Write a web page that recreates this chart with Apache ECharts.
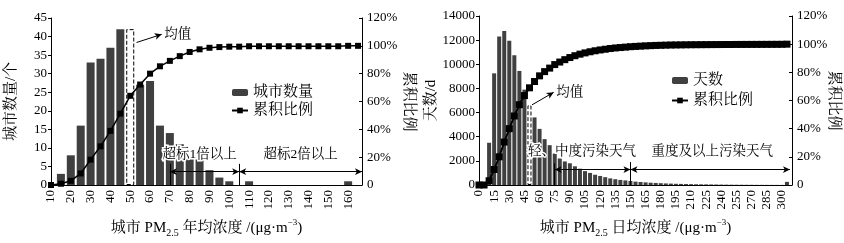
<!DOCTYPE html>
<html>
<head>
<meta charset="utf-8">
<script src="https://cdn.jsdelivr.net/npm/echarts@6/dist/echarts.min.js"></script>
<style>
html, body { margin: 0; background: #fff; }
#chart { width: 844px; height: 243px; }
</style>
</head>
<body>
<div id="chart"></div>
<script>
// left panel: annual mean PM2.5 of cities (bins of 5 ug/m3)
const concL = [10,15,20,25,30,35,40,45,50,55,60,65,70,75,80,85,90,95,100,105,110,115,120,125,130,135,140,145,150,155,160,165];
const countL = [0,3,8,16,33,34,37,42,42,27,28,16,14,11,7,7,4,2,1,0,1,0,0,0,0,0,0,0,0,0,1,0];
const cumL = [0,0.9,3.0,8.3,18.2,27.8,38.9,51.3,64.1,72.2,80.0,85.3,89.2,92.6,95.6,97.5,98.6,99.1,99.4,99.4,99.7,99.7,99.7,99.7,99.7,99.7,99.7,99.7,99.7,99.7,100,100];
const meanL = 50;

// right panel: daily PM2.5 (days per bin)
const concBarR = [10,15,20,25,30,35,40,45,50,55,60,65,70,75,80,85,90,95,100,105,110,115,120,125,130,135,140,145,150,155,160,165,170,175,180,185,190,195,200,205,210,215,220,225,230,235,240,245,250,255,260,265,270,275,280,285,290,295,300,305];
const daysR = [3500,9250,12300,12750,11950,10750,9450,7900,6600,5600,4650,3800,3300,2600,2200,1950,1800,1550,1350,1150,1000,850,750,650,550,480,420,380,330,280,250,220,190,170,150,130,115,100,90,80,70,60,55,50,45,40,35,30,25,22,20,18,15,13,12,10,9,8,7,260];
const concCumR = [0,5,10,15,20,25,30,35,40,45,50,55,60,65,70,75,80,85,90,95,100,105,110,115,120,125,130,135,140,145,150,155,160,165,170,175,180,185,190,195,200,205,210,215,220,225,230,235,240,245,250,255,260,265,270,275,280,285,290,295,300,305];
const cumR = [0,0,3,11,20,30.5,40,49,57,63.5,69,73.5,77.5,80.5,83,85.5,87.3,89,90.5,91.8,92.9,93.8,94.6,95.3,95.9,96.4,96.9,97.3,97.6,97.9,98.2,98.4,98.6,98.8,98.95,99.1,99.2,99.3,99.4,99.45,99.5,99.55,99.6,99.62,99.65,99.67,99.7,99.72,99.74,99.76,99.78,99.8,99.81,99.82,99.83,99.84,99.85,99.86,99.87,99.88,99.9,100];
const meanR = 50;

const FONT = '"Liberation Serif","Noto Serif CJK SC","Noto Sans CJK SC",serif';
const BAR = '#404040';
const meanStyle = { color: '#fff', borderColor: '#000', borderType: 'dashed', borderWidth: 1 };

const pct = v => (v === 0 ? '0' : v + '%');
const plain = v => String(v);

function barData(xs, ys, mean) {
  return xs.map((x, i) => x === mean ? { value: [x, ys[i]], itemStyle: meanStyle } : [x, ys[i]]);
}
function pairs(xs, ys) { return xs.map((x, i) => [x, ys[i]]); }

const txt = { color: '#000', fontFamily: FONT };
const nameRich = {
  s: { fontSize: 10, fontFamily: FONT, color: '#000', verticalAlign: 'bottom', lineHeight: 20 },
  p: { fontSize: 9, fontFamily: FONT, color: '#000', verticalAlign: 'top', lineHeight: 20 }
};

function xAxis(grid, min, max, interval, name) {
  return {
    type: 'value', gridIndex: grid, min: min, max: max, interval: interval,
    axisLine: { lineStyle: { color: '#000', width: 1 } },
    axisTick: { show: false },
    splitLine: { show: false },
    axisLabel: { ...txt, fontSize: 13, rotate: 90, margin: 5, showMaxLabel: false },
    name: name, nameLocation: 'middle', nameGap: 33, nameMoveOverlap: false,
    nameTextStyle: { ...txt, fontSize: 15, lineHeight: 20, rich: nameRich }
  };
}
function yLeft(grid, max, interval, name, gap) {
  return {
    type: 'value', gridIndex: grid, min: 0, max: max, interval: interval,
    axisLine: { show: true, lineStyle: { color: '#000', width: 1 } },
    axisTick: { show: true, length: 3, lineStyle: { color: '#000' } },
    splitLine: { show: false },
    axisLabel: { ...txt, fontSize: 13, margin: 4, formatter: plain },
    name: name, nameLocation: 'middle', nameGap: gap, nameRotate: 90, nameMoveOverlap: false,
    nameTextStyle: { ...txt, fontSize: 15 }
  };
}
function yRight(grid, gap) {
  return {
    type: 'value', gridIndex: grid, position: 'right', min: 0, max: 120, interval: 20,
    axisLine: { show: true, lineStyle: { color: '#000', width: 1 } },
    axisTick: { show: true, inside: true, length: 3, lineStyle: { color: '#000' } },
    splitLine: { show: false },
    axisLabel: { ...txt, fontSize: 13, margin: 5, formatter: pct },
    name: '累积比例', nameLocation: 'middle', nameGap: gap, nameRotate: -90, nameMoveOverlap: false,
    nameTextStyle: { ...txt, fontSize: 15 }
  };
}

const markLineBase = {
  silent: true, animation: false,
  symbol: ['none', 'none'], symbolSize: [5, 7],
  label: { show: false },
  emphasis: { disabled: true },
  lineStyle: { color: '#000', width: 1, type: 'solid' }
};
const markPointBase = {
  silent: true, animation: false,
  symbol: 'rect', symbolSize: 1, itemStyle: { color: 'rgba(0,0,0,0)' },
  label: { show: true, position: 'inside', formatter: p => p.name, ...txt, fontSize: 13.5, textBorderColor: '#fff', textBorderWidth: 3 }
};

const chart = echarts.init(document.getElementById('chart'));
chart.setOption({
  animation: false,
  textStyle: { fontFamily: FONT },
  grid: [
    { left: 51, right: 482, top: 18, bottom: 51 },
    { left: 479, right: 52, top: 16, bottom: 52 }
  ],
  legend: [
    {
      data: ['城市数量', '累积比例'], left: 226, top: 80, orient: 'vertical',
      itemWidth: 16, itemHeight: 7, itemGap: 3, textStyle: { ...txt, fontSize: 15 }
    },
    {
      data: ['天数', '累积比例'], left: 666, top: 68, orient: 'vertical',
      itemWidth: 16, itemHeight: 7, itemGap: 5, textStyle: { ...txt, fontSize: 15 }
    }
  ],
  xAxis: [
    xAxis(0, 10, 167, 10, '城市 PM{s|2.5} 年均浓度 /(μg·m{p|−3})'),
    xAxis(1, 0, 310, 15, '城市 PM{s|2.5} 日均浓度 /(μg·m{p|−3})')
  ],
  yAxis: [
    yLeft(0, 45, 5, '城市数量/个', 32),
    yRight(0, 39),
    yLeft(1, 14000, 2000, '天数/d', 40),
    yRight(1, 34)
  ],
  series: [
    {
      name: '城市数量', type: 'bar', xAxisIndex: 0, yAxisIndex: 0,
      barWidth: 8, itemStyle: { color: BAR },
      data: barData(concL, countL, meanL),
      markLine: {
        ...markLineBase,
        data: [
          [{ coord: [70, 0] }, { coord: [70, 5.7] }],
          [{ coord: [105, 0] }, { coord: [105, 5.7] }],
          [{ coord: [70, 3.6], symbol: 'arrow' }, { coord: [105, 3.6], symbol: 'arrow' }],
          [{ coord: [105, 3.6], symbol: 'arrow' }, { coord: [167, 3.6], symbol: 'arrow' }],
          [{ coord: [53.2, 38.4] }, { coord: [65.9, 40.6], symbol: 'arrow' }]
        ]
      },
      markPoint: {
        ...markPointBase,
        data: [
          { name: '超标1倍以上', coord: [85, 8.3] },
          { name: '超标2倍以上', coord: [136, 8.3] },
          { name: '均值', coord: [74, 40.6] }
        ]
      }
    },
    {
      name: '累积比例', type: 'line', xAxisIndex: 0, yAxisIndex: 1,
      symbol: 'rect', symbolSize: 6, showAllSymbol: true,
      itemStyle: { color: '#000' }, lineStyle: { color: '#000', width: 1.5 },
      data: pairs(concL, cumL)
    },
    {
      name: '天数', type: 'bar', xAxisIndex: 1, yAxisIndex: 2,
      barWidth: 4, itemStyle: { color: BAR },
      data: barData(concBarR, daysR, meanR),
      markLine: {
        ...markLineBase,
        data: [
          [{ coord: [75, 0] }, { coord: [75, 1800] }],
          [{ coord: [150, 0] }, { coord: [150, 1900] }],
          [{ coord: [75, 1280], symbol: 'arrow' }, { coord: [150, 1280], symbol: 'arrow' }],
          [{ coord: [150, 1280], symbol: 'arrow' }, { coord: [308, 1280], symbol: 'arrow' }],
          [{ coord: [52.5, 6640] }, { coord: [74, 7680], symbol: 'arrow' }]
        ]
      },
      markPoint: {
        ...markPointBase,
        data: [
          { name: '轻、中度污染天气', coord: [102, 2800] },
          { name: '重度及以上污染天气', coord: [231, 2800] },
          { name: '均值', coord: [90, 7700] }
        ]
      }
    },
    {
      name: '累积比例', type: 'line', xAxisIndex: 1, yAxisIndex: 3,
      symbol: 'rect', symbolSize: 7, showAllSymbol: true,
      itemStyle: { color: '#000' }, lineStyle: { color: '#000', width: 2 },
      data: pairs(concCumR, cumR)
    }
  ]
});
</script>
</body>
</html>
